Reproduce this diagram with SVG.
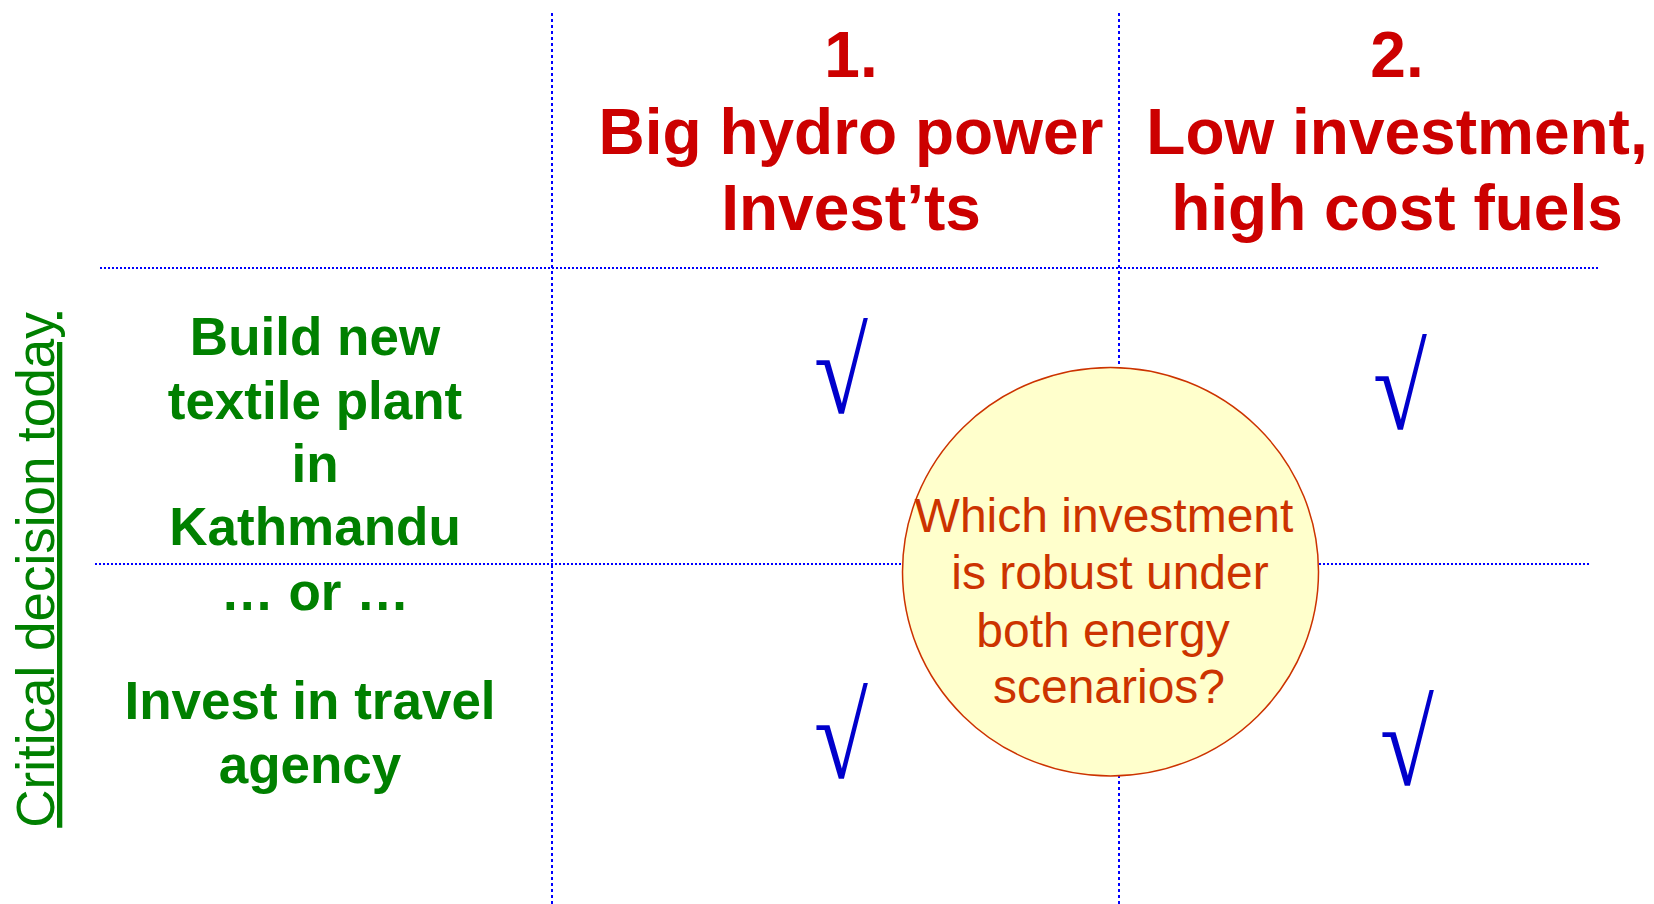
<svg xmlns="http://www.w3.org/2000/svg" width="1654" height="904" viewBox="0 0 1654 904">
<style>
.hd{font-family:"Liberation Sans",Arial,sans-serif;font-weight:bold;font-size:64px;fill:#CC0000;text-anchor:middle}
.gr{font-family:"Liberation Sans",Arial,sans-serif;font-weight:bold;font-size:53px;fill:#008000;text-anchor:middle}
.q{font-family:"Liberation Sans",Arial,sans-serif;font-size:48px;fill:#CC3300;text-anchor:middle}
.ck{font-family:"Liberation Serif","DejaVu Serif",serif;font-size:120px;fill:#0000CC;text-anchor:middle}
.hl{stroke:#0000FF;stroke-width:2;stroke-dasharray:2 2;fill:none}
.vl{stroke:#0000FF;stroke-width:2;stroke-dasharray:3 3;fill:none}
</style>
<rect width="1654" height="904" fill="#FFFFFF"/>
<g id="grid">
<line class="vl" x1="552" y1="13" x2="552" y2="904"/>
<line class="vl" x1="1119" y1="13" x2="1119" y2="904"/>
<line class="hl" x1="100" y1="268" x2="1598" y2="268"/>
<line class="hl" x1="95" y1="564" x2="1591" y2="564"/>
</g>
<g id="header1">
<text class="hd" x="851" y="77">1.</text>
<text class="hd" x="851" y="154">Big hydro power</text>
<text class="hd" x="851" y="230">Invest’ts</text>
</g>
<g id="header2">
<text class="hd" x="1397" y="77">2.</text>
<text class="hd" x="1397" y="154">Low investment,</text>
<text class="hd" x="1397" y="230">high cost fuels</text>
</g>
<g id="option1">
<text class="gr" x="315" y="355">Build new</text>
<text class="gr" x="315" y="419">textile plant</text>
<text class="gr" x="315" y="482">in</text>
<text class="gr" x="315" y="545">Kathmandu</text>
<text class="gr" x="315" y="610">… or …</text>
</g>
<g id="option2">
<text class="gr" x="310" y="719">Invest in travel</text>
<text class="gr" x="310" y="783">agency</text>
</g>
<g id="axis-label">
<text transform="translate(54,570) rotate(-90)" font-family="Liberation Sans, Arial, sans-serif" font-size="53" fill="#008000" text-anchor="middle" text-decoration="underline">Critical decision today</text>
</g>
<g id="checks">
<text class="ck" transform="translate(841,413) scale(0.82,1)">√</text>
<text class="ck" transform="translate(1400,429) scale(0.82,1)">√</text>
<text class="ck" transform="translate(841,778) scale(0.82,1)">√</text>
<text class="ck" transform="translate(1407,785) scale(0.82,1)">√</text>
</g>
<g id="question">
<ellipse cx="1110.5" cy="571.7" rx="208" ry="204.3" fill="#FFFFCC" stroke="#CC3300" stroke-width="1.5"/>
<text class="q" x="1104" y="532">Which investment</text>
<text class="q" x="1110" y="589">is robust under</text>
<text class="q" x="1103" y="647">both energy</text>
<text class="q" x="1109" y="703">scenarios?</text>
</g>
</svg>
